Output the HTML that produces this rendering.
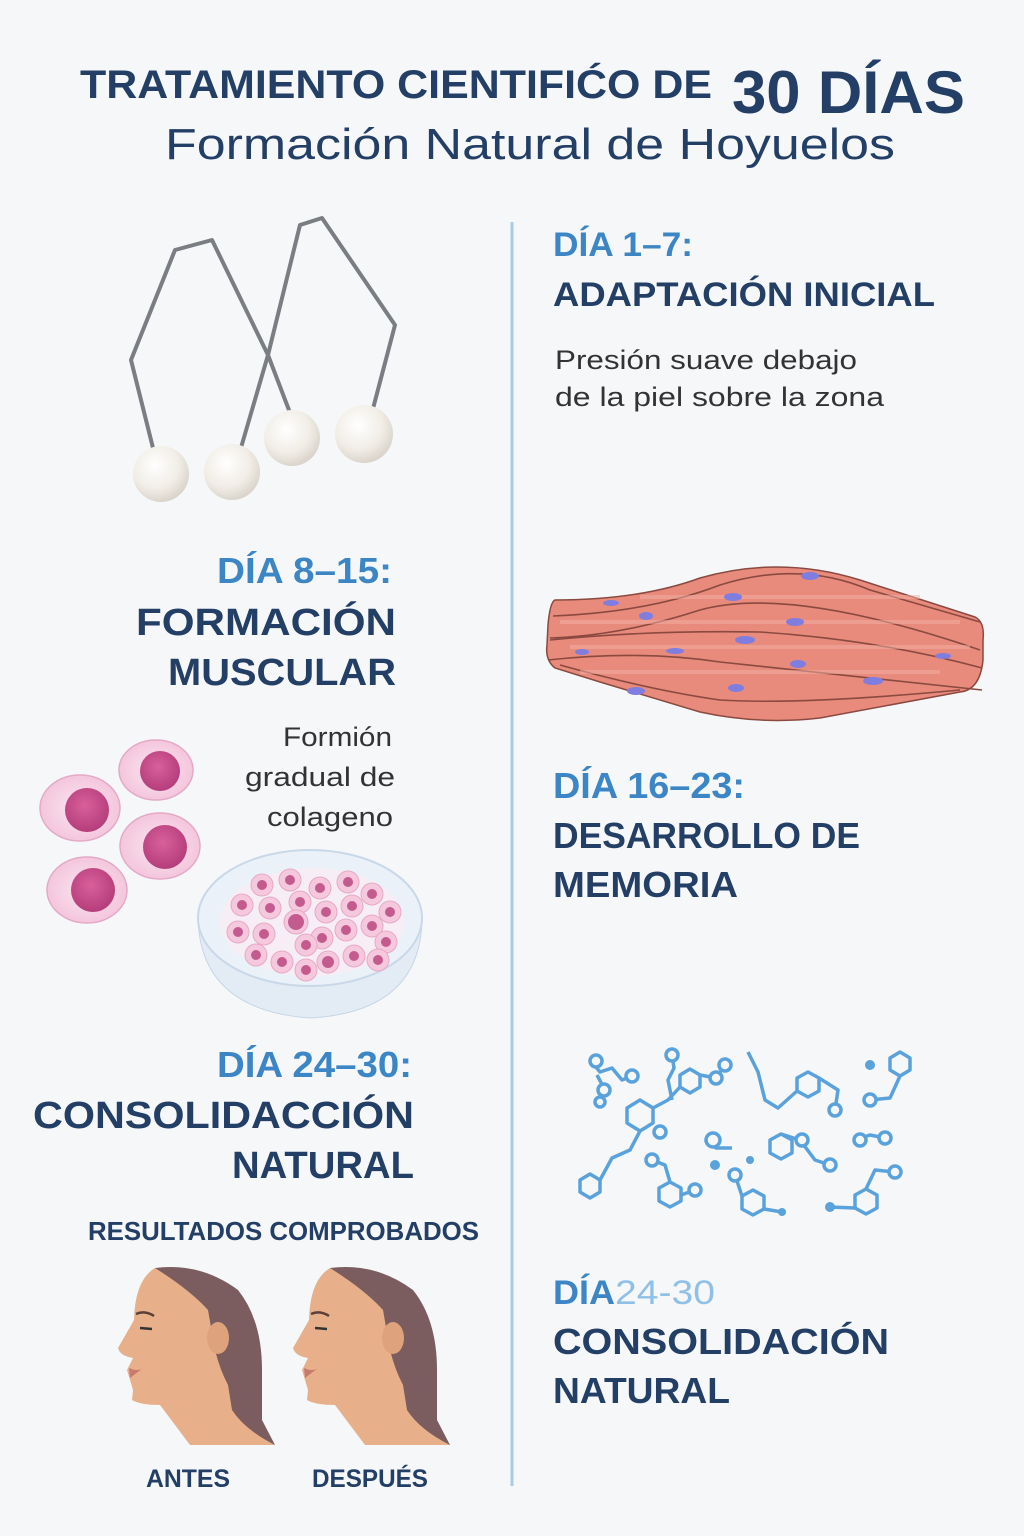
<!DOCTYPE html>
<html><head><meta charset="utf-8"><style>
html,body{margin:0;padding:0;background:#f5f7f9}
svg{display:block}
text{font-family:"Liberation Sans",sans-serif}
.n{fill:#243f66;font-weight:bold}
.b{fill:#3c86c6;font-weight:bold}
.g{fill:#333;font-weight:normal}
</style></head><body>
<svg width="1024" height="1536" viewBox="0 0 1024 1536" xmlns="http://www.w3.org/2000/svg">
<rect width="1024" height="1536" fill="#f5f7f9"/>
<!-- title -->
<text class="n" x="80" y="98" font-size="40" textLength="632" lengthAdjust="spacingAndGlyphs">TRATAMIENTO CIENTIFIĆO DE</text>
<text class="n" x="732" y="113" font-size="60" textLength="233" lengthAdjust="spacingAndGlyphs">30 DÍAS</text>
<text x="165" y="159" font-size="44" fill="#243f66" textLength="730" lengthAdjust="spacingAndGlyphs">Formación Natural de Hoyuelos</text>
<line x1="512" y1="222" x2="512" y2="1486" stroke="#a9cce9" stroke-width="3"/>

<!-- hooks -->
<g fill="none" stroke="#7a7d82" stroke-width="4" stroke-linejoin="round">
<polyline points="153,448 131,360 175,250 212,240 268,355 238,458"/>
<polyline points="292,418 268,355 300,225 322,218 395,325 370,420"/>
</g>
<defs><radialGradient id="pl" cx="0.4" cy="0.35" r="0.7"><stop offset="0" stop-color="#ffffff"/><stop offset="0.6" stop-color="#f1ede6"/><stop offset="1" stop-color="#d6d0c6"/></radialGradient>
<radialGradient id="cl" cx="0.5" cy="0.5" r="0.6"><stop offset="0" stop-color="#fbe6f1"/><stop offset="1" stop-color="#f2bfd8"/></radialGradient>
<radialGradient id="nu" cx="0.45" cy="0.4" r="0.6"><stop offset="0" stop-color="#d9609a"/><stop offset="1" stop-color="#b43d7b"/></radialGradient></defs>
<circle cx="161" cy="474" r="28" fill="url(#pl)"/>
<circle cx="232" cy="472" r="28" fill="url(#pl)"/>
<circle cx="292" cy="438" r="28" fill="url(#pl)"/>
<circle cx="364" cy="434" r="29" fill="url(#pl)"/>

<text class="b" x="553" y="256" font-size="34" textLength="140" lengthAdjust="spacingAndGlyphs">DÍA 1–7:</text>
<text class="n" x="553" y="306" font-size="34" textLength="382" lengthAdjust="spacingAndGlyphs">ADAPTACIÓN INICIAL</text>
<text class="g" x="555" y="369" font-size="27" textLength="302" lengthAdjust="spacingAndGlyphs">Presión suave debajo</text>
<text class="g" x="555" y="406" font-size="27" textLength="329" lengthAdjust="spacingAndGlyphs">de la piel sobre la zona</text>

<!-- muscle -->
<g stroke="#8a4a40" stroke-width="1.5" fill="#e88a7c">
<path d="M555,600 Q640,600 700,578 Q780,555 860,580 L975,617 Q985,622 983,640 L983,660 Q980,690 960,692 L820,718 Q760,725 700,712 L600,682 L555,668 Q545,660 547,645 L548,625 Q550,602 555,600 Z"/>
</g>
<g stroke="#8a4a40" stroke-width="1.6" fill="none">
<path d="M553,616 Q650,612 720,585 Q800,560 870,590 L980,622"/>
<path d="M550,638 Q620,636 700,610 Q790,585 980,650"/>
<path d="M550,640 Q650,630 760,632 Q880,640 982,668"/>
<path d="M548,660 Q640,650 720,662 Q800,670 982,690"/>
<path d="M560,665 Q650,690 720,700 Q800,705 960,690"/>
</g>
<g fill="#f4b3a6" opacity="0.5">
<rect x="560" y="620" width="400" height="4"/><rect x="570" y="645" width="400" height="4"/><rect x="580" y="670" width="360" height="4"/><rect x="640" y="595" width="280" height="4"/>
</g>
<g fill="#7f7ee0">
<ellipse cx="611" cy="603" rx="8" ry="3"/><ellipse cx="733" cy="597" rx="9" ry="4"/><ellipse cx="810" cy="576" rx="9" ry="4"/><ellipse cx="646" cy="616" rx="7" ry="4"/><ellipse cx="795" cy="622" rx="9" ry="4"/><ellipse cx="745" cy="640" rx="10" ry="4"/><ellipse cx="582" cy="652" rx="7" ry="3"/><ellipse cx="675" cy="651" rx="9" ry="3"/><ellipse cx="798" cy="664" rx="8" ry="4"/><ellipse cx="943" cy="656" rx="8" ry="3"/><ellipse cx="636" cy="691" rx="9" ry="4"/><ellipse cx="736" cy="688" rx="8" ry="4"/><ellipse cx="873" cy="681" rx="10" ry="4"/>
</g>

<text class="b" x="217" y="583" font-size="36" textLength="175" lengthAdjust="spacingAndGlyphs">DÍA 8–15:</text>
<text class="n" x="136" y="635" font-size="38" textLength="260" lengthAdjust="spacingAndGlyphs">FORMACIÓN</text>
<text class="n" x="168" y="685" font-size="38" textLength="228" lengthAdjust="spacingAndGlyphs">MUSCULAR</text>
<text class="g" x="283" y="746" font-size="27" textLength="109" lengthAdjust="spacingAndGlyphs">Formión</text>
<text class="g" x="245" y="786" font-size="27" textLength="150" lengthAdjust="spacingAndGlyphs">gradual de</text>
<text class="g" x="267" y="826" font-size="27" textLength="126" lengthAdjust="spacingAndGlyphs">colageno</text>

<!-- cells -->
<g stroke="#e4a9c6" stroke-width="1.5">
<ellipse cx="156" cy="770" rx="37" ry="30" fill="url(#cl)"/>
<ellipse cx="80" cy="808" rx="40" ry="33" fill="url(#cl)"/>
<ellipse cx="160" cy="846" rx="40" ry="33" fill="url(#cl)"/>
<ellipse cx="87" cy="890" rx="40" ry="33" fill="url(#cl)"/>
</g>
<circle cx="160" cy="771" r="20" fill="url(#nu)"/>
<circle cx="87" cy="810" r="22" fill="url(#nu)"/>
<circle cx="165" cy="847" r="22" fill="url(#nu)"/>
<circle cx="93" cy="890" r="22" fill="url(#nu)"/>
<!-- petri -->
<path d="M198,918 Q200,1010 310,1018 Q420,1012 422,920" fill="#e3ecf5" stroke="#c6d6e6"/>
<ellipse cx="310" cy="918" rx="112" ry="68" fill="#eaf1f8" stroke="#c9d8e8" stroke-width="2"/>
<ellipse cx="312" cy="922" rx="92" ry="54" fill="#f6eef4"/>
<g fill="#f5c8dd" stroke="#e6a9c6">
<circle cx="262" cy="885" r="11"/><circle cx="290" cy="880" r="11"/><circle cx="320" cy="888" r="11"/><circle cx="348" cy="882" r="11"/><circle cx="372" cy="894" r="11"/>
<circle cx="242" cy="905" r="11"/><circle cx="270" cy="908" r="11"/><circle cx="300" cy="902" r="11"/><circle cx="326" cy="912" r="11"/><circle cx="352" cy="906" r="11"/><circle cx="390" cy="912" r="11"/>
<circle cx="238" cy="932" r="11"/><circle cx="264" cy="934" r="11"/><circle cx="296" cy="922" r="12"/><circle cx="322" cy="938" r="11"/><circle cx="346" cy="930" r="11"/><circle cx="372" cy="926" r="11"/><circle cx="386" cy="942" r="11"/>
<circle cx="256" cy="955" r="11"/><circle cx="282" cy="962" r="11"/><circle cx="306" cy="945" r="11"/><circle cx="328" cy="962" r="11"/><circle cx="354" cy="956" r="11"/><circle cx="378" cy="960" r="11"/><circle cx="306" cy="970" r="11"/>
</g>
<g fill="#c45b8f">
<circle cx="262" cy="885" r="5"/><circle cx="290" cy="880" r="5"/><circle cx="320" cy="888" r="5"/><circle cx="348" cy="882" r="5"/><circle cx="372" cy="894" r="5"/>
<circle cx="242" cy="905" r="5"/><circle cx="270" cy="908" r="5"/><circle cx="300" cy="902" r="5"/><circle cx="326" cy="912" r="5"/><circle cx="352" cy="906" r="5"/><circle cx="390" cy="912" r="5"/>
<circle cx="238" cy="932" r="5"/><circle cx="264" cy="934" r="5"/><circle cx="296" cy="922" r="8"/><circle cx="322" cy="938" r="5"/><circle cx="346" cy="930" r="5"/><circle cx="372" cy="926" r="5"/><circle cx="386" cy="942" r="5"/>
<circle cx="256" cy="955" r="5"/><circle cx="282" cy="962" r="5"/><circle cx="306" cy="945" r="5"/><circle cx="328" cy="962" r="6"/><circle cx="354" cy="956" r="5"/><circle cx="378" cy="960" r="5"/><circle cx="306" cy="970" r="5"/>
</g>

<text class="b" x="553" y="798" font-size="36" textLength="192" lengthAdjust="spacingAndGlyphs">DÍA 16–23:</text>
<text class="n" x="553" y="848" font-size="36" textLength="307" lengthAdjust="spacingAndGlyphs">DESARROLLO DE</text>
<text class="n" x="553" y="897" font-size="36" textLength="185" lengthAdjust="spacingAndGlyphs">MEMORIA</text>

<text class="b" x="217" y="1077" font-size="36" textLength="195" lengthAdjust="spacingAndGlyphs">DÍA 24–30:</text>
<text class="n" x="33" y="1128" font-size="38" textLength="381" lengthAdjust="spacingAndGlyphs">CONSOLIDACCIÓN</text>
<text class="n" x="232" y="1178" font-size="38" textLength="182" lengthAdjust="spacingAndGlyphs">NATURAL</text>

<!-- molecules -->
<g fill="none" stroke="#5aa2dc" stroke-width="3.5" stroke-linejoin="round">
<polygon points="627,1108 640,1100 653,1108 653,1123 640,1131 627,1123"/>
<polygon points="797,1078 808,1072 819,1078 819,1091 808,1097 797,1091"/>
<polygon points="680,1075 690,1069 700,1075 700,1087 690,1093 680,1087"/>
<polygon points="770,1140 781,1134 792,1140 792,1153 781,1159 770,1153"/>
<polygon points="659,1188 670,1182 681,1188 681,1201 670,1207 659,1201"/>
<polygon points="742,1196 753,1190 764,1196 764,1209 753,1215 742,1209"/>
<polygon points="855,1195 866,1189 877,1195 877,1208 866,1214 855,1208"/>
<polygon points="580,1180 590,1174 600,1180 600,1192 590,1198 580,1192"/>
<polygon points="890,1058 900,1052 910,1058 910,1070 900,1076 890,1070"/>
<polyline points="590,1060 600,1072 612,1068 622,1080 632,1076"/>
<polyline points="597,1075 605,1090"/>
<polyline points="640,1131 630,1150 612,1158 600,1180"/>
<polyline points="653,1108 668,1100 680,1087"/>
<polyline points="700,1075 716,1078 725,1065"/>
<polyline points="748,1052 758,1072 765,1100 778,1108 797,1091"/>
<polyline points="819,1078 838,1090 835,1110"/>
<polyline points="870,1100 890,1098 900,1076"/>
<polyline points="705,1140 716,1148 732,1148"/>
<polyline points="781,1134 800,1140 815,1160 830,1165"/>
<polyline points="670,1182 665,1165 652,1160"/>
<polyline points="681,1195 695,1190"/>
<polyline points="735,1175 742,1196"/>
<polyline points="764,1209 782,1212"/>
<polyline points="830,1207 855,1208"/>
<polyline points="866,1189 875,1170 895,1172"/>
<polyline points="855,1140 870,1135 885,1138"/>
<polyline points="672,1055 674,1068 668,1080 672,1100"/>
</g>
<g fill="#f5f7f9" stroke="#5aa2dc" stroke-width="3.5">
<circle cx="596" cy="1061" r="6"/><circle cx="604" cy="1090" r="6"/><circle cx="632" cy="1076" r="6"/><circle cx="672" cy="1055" r="6"/><circle cx="716" cy="1078" r="6"/><circle cx="725" cy="1065" r="6"/><circle cx="713" cy="1140" r="7"/><circle cx="735" cy="1175" r="6"/><circle cx="652" cy="1160" r="6"/><circle cx="695" cy="1190" r="6"/><circle cx="802" cy="1140" r="6"/><circle cx="830" cy="1165" r="6"/><circle cx="860" cy="1140" r="6"/><circle cx="885" cy="1138" r="6"/><circle cx="895" cy="1172" r="6"/><circle cx="870" cy="1100" r="6"/><circle cx="835" cy="1110" r="6"/><circle cx="660" cy="1132" r="6"/><circle cx="600" cy="1102" r="5"/>
</g>
<g fill="#5aa2dc"><circle cx="715" cy="1165" r="5"/><circle cx="870" cy="1065" r="5"/><circle cx="830" cy="1207" r="5"/><circle cx="782" cy="1212" r="4"/><circle cx="750" cy="1160" r="4"/></g>

<text class="b" x="553" y="1304" font-size="34" textLength="62" lengthAdjust="spacingAndGlyphs">DÍA</text>
<text x="615" y="1304" font-size="34" fill="#8fc0e8" textLength="100" lengthAdjust="spacingAndGlyphs">24-30</text>
<text class="n" x="553" y="1354" font-size="36" textLength="336" lengthAdjust="spacingAndGlyphs">CONSOLIDACIÓN</text>
<text class="n" x="553" y="1403" font-size="36" textLength="177" lengthAdjust="spacingAndGlyphs">NATURAL</text>

<text class="n" x="88" y="1240" font-size="26" textLength="391" lengthAdjust="spacingAndGlyphs">RESULTADOS COMPROBADOS</text>

<!-- faces -->
<g id="face">
<path d="M155,1268 Q200,1262 238,1290 Q262,1320 262,1370 L262,1420 L275,1445 L240,1440 L215,1395 Z" fill="#7b5d5f"/>
<path d="M155,1268 Q135,1280 134,1320 L118,1348 Q120,1356 133,1358 L127,1370 L133,1390 L132,1400 Q140,1405 160,1405 L190,1445 L275,1445 Q245,1430 232,1410 L228,1385 Q220,1370 215,1350 L208,1310 Q190,1290 155,1268 Z" fill="#e8b08a"/>
<ellipse cx="218" cy="1338" rx="11" ry="16" fill="#dea27d"/>
<path d="M136,1314 Q145,1310 154,1316" stroke="#5a4038" stroke-width="2.5" fill="none"/>
<path d="M140,1328 L152,1329" stroke="#333" stroke-width="2.5"/>
<path d="M129,1368 Q138,1372 143,1368 L130,1378 Z" fill="#c97a6c"/>
</g>
<use href="#face" x="175"/>
<text class="n" x="146" y="1487" font-size="25" textLength="84" lengthAdjust="spacingAndGlyphs">ANTES</text>
<text class="n" x="312" y="1487" font-size="25" textLength="116" lengthAdjust="spacingAndGlyphs">DESPUÉS</text>
</svg>
</body></html>
